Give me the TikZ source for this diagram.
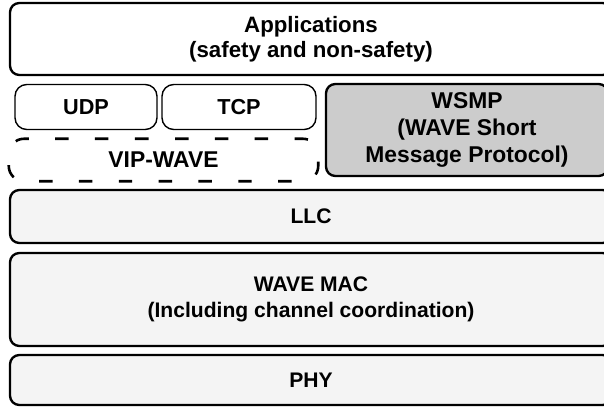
\documentclass[tikz,border=0pt]{standalone}
\usepackage{fontspec}
\setmainfont{Liberation Sans}
\usetikzlibrary{positioning}
\tikzset{
  layer/.style={draw, line width=2pt, rounded corners=8pt, align=center,
    inner sep=0pt, font=\bfseries\fontsize{18}{22}\selectfont},
  proto/.style={draw, line width=1.2pt, rounded corners=10pt, align=center,
    inner sep=0pt, font=\bfseries\fontsize{18.5}{22}\selectfont},
  vipline/.style={line width=2.2pt, rounded corners=13pt,
    dash pattern=on 11.5pt off 22.5pt},
}
\begin{document}
\begin{tikzpicture}
  \useasboundingbox (0,0) rectangle (18.12,-12.21);
  \clip (0,0) rectangle (18.12,-12.21);

  % upper layers
  \node[layer, minimum width=18.06cm, minimum height=2.16cm,
    font=\bfseries\fontsize{19}{21.5}\selectfont] (app) at (9.33,-1.17)
    {Applications\\(safety and non-safety)};
  \node[proto, minimum width=4.26cm, minimum height=1.35cm] (udp) at (2.58,-3.21) {UDP};
  \node[proto, minimum width=4.62cm, minimum height=1.35cm] (tcp) at (7.17,-3.21) {TCP};
  \node[font=\bfseries\fontsize{19.5}{22}\selectfont, minimum width=9.27cm,
    minimum height=1.26cm, inner sep=0pt] (vip) at (4.905,-4.8) {VIP-WAVE};
  \draw[vipline] (vip.north) -- (vip.north west) -- (vip.south west)
    -- (vip.south east) -- (vip.north east) -- cycle;
  \node[layer, fill=gray!40, minimum width=8.46cm, minimum height=2.76cm,
    font=\bfseries\fontsize{19.5}{23}\selectfont] (wsmp) at (14.01,-3.9)
    {WSMP\\(WAVE Short\\Message Protocol)};

  % lower layers
  \node[layer, fill=gray!9, minimum width=18.06cm, minimum height=1.59cm] (llc) at (9.33,-6.495) {LLC};
  \node[layer, fill=gray!9, minimum width=18.06cm, minimum height=2.79cm] (mac) at (9.33,-8.985)
    {WAVE MAC\\(Including channel coordination)};
  \node[layer, fill=gray!9, minimum width=18.06cm, minimum height=1.5cm] (phy) at (9.33,-11.4) {PHY};
\end{tikzpicture}
\end{document}
